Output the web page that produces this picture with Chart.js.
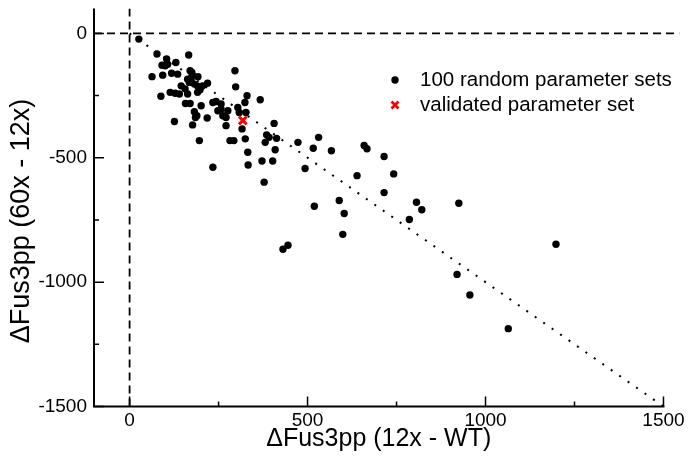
<!DOCTYPE html>
<html>
<head>
<meta charset="utf-8">
<script src="https://cdn.jsdelivr.net/npm/chart.js@4.4.1/dist/chart.umd.min.js"></script>
<style>
  body { margin: 0; background: #fff; }
  canvas { display: block; }
</style>
</head>
<body>
<canvas id="myChart" width="688" height="458"></canvas>
<script>
// 100 random parameter sets
var randX = [26, 77, 104, 107, 91, 100, 130, 63, 93, 118, 135, 114, 128, 140, 88, 145,
    166, 170, 175, 177, 163, 173, 168, 182, 191, 205, 219, 163, 157, 170, 191, 201,
    182, 189, 185, 218, 126, 177, 234, 243, 257, 248, 276, 262, 271, 296, 298, 330,
    324, 367, 304, 308, 327, 271, 316, 406, 385, 392, 381, 413, 196, 282, 293, 325,
    473, 531, 332, 409, 516, 567, 372, 402, 333, 493, 234, 378, 519, 659, 667, 715,
    742, 639, 715, 589, 603, 806, 821, 786, 925, 1198, 920, 956, 1064, 431, 445, 599,
    192, 198, 156, 257];
var randY = [-23, -83, -103, -124, -128, -130, -117, -174, -168, -160, -164, -237, -241, -244, -253, -211,
    -87, -150, -157, -170, -184, -190, -197, -204, -212, -211, -200, -244, -282, -282, -237, -291,
    -315, -331, -338, -340, -354, -368, -278, -274, -284, -311, -311, -331, -338, -150, -215, -251,
    -278, -267, -298, -318, -318, -371, -384, -362, -408, -418, -438, -422, -431, -431, -431, -424,
    -438, -418, -478, -468, -462, -472, -513, -513, -529, -543, -538, -598, -695, -451, -464, -495,
    -565, -572, -640, -672, -724, -679, -709, -748, -683, -848, -969, -1052, -1187, -868, -852, -808,
    -174, -227, -223, -304];

// validated parameter set
var validX = [318];
var validY = [-350];

var xTicks = [0, 250, 500, 750, 1000, 1250, 1500];
var yTicks = [-1500, -1250, -1000, -750, -500, -250, 0];
var legendLabels = ["100 random parameter sets", "validated parameter set"];
var xTitle = "\u0394Fus3pp (12x - WT)";
var yTitle = "\u0394Fus3pp (60x - 12x)";

var FONT = "'Liberation Sans', Arial, Helvetica, sans-serif";
Chart.defaults.font.family = FONT;
Chart.defaults.color = "#000";

function toPoints(xs, ys) {
    var pts = [];
    for (var i = 0; i < xs.length; i++) pts.push({x: xs[i], y: ys[i]});
    return pts;
}

// axes, inward ticks, titles and legend
var decor = {
    id: "decor",
    afterDraw: function (chart) {
        var ctx = chart.ctx;
        var sx = chart.scales.x, sy = chart.scales.y;
        var x0 = sx.getPixelForValue(-100), x1 = sx.getPixelForValue(1500);
        var yb = sy.getPixelForValue(-1500), yt = sy.getPixelForValue(100);
        ctx.save();
        ctx.strokeStyle = "#000";
        ctx.lineWidth = 2;
        ctx.beginPath();
        ctx.moveTo(x0, yb); ctx.lineTo(x1 + 1, yb);
        ctx.moveTo(x0, yb + 1); ctx.lineTo(x0, yt);
        ctx.stroke();
        ctx.lineWidth = 1.5;
        ctx.beginPath();
        xTicks.forEach(function (v) {
            var p = sx.getPixelForValue(v);
            var len = v % 500 === 0 ? 10 : 5;
            ctx.moveTo(p, yb); ctx.lineTo(p, yb - len);
        });
        yTicks.forEach(function (v) {
            var p = sy.getPixelForValue(v);
            var len = v % 500 === 0 ? 10 : 5;
            ctx.moveTo(x0, p); ctx.lineTo(x0 + len, p);
        });
        ctx.stroke();

        // titles
        ctx.fillStyle = "#000";
        ctx.font = "25px " + FONT;
        ctx.textAlign = "center";
        ctx.textBaseline = "middle";
        ctx.fillText(xTitle, (x0 + x1) / 2, 439);
        ctx.save();
        ctx.font = "27px " + FONT;
        ctx.translate(22, 221);
        ctx.rotate(-Math.PI / 2);
        ctx.fillText(yTitle, 0, 0);
        ctx.restore();

        // legend
        ctx.beginPath();
        ctx.arc(395, 80, 3.7, 0, Math.PI * 2);
        ctx.fill();
        ctx.strokeStyle = "#ff0000";
        ctx.lineWidth = 2.8;
        ctx.beginPath();
        ctx.moveTo(391.5, 101.5); ctx.lineTo(398.5, 108.5);
        ctx.moveTo(398.5, 101.5); ctx.lineTo(391.5, 108.5);
        ctx.stroke();
        ctx.font = "20.5px " + FONT;
        ctx.textAlign = "left";
        ctx.fillText(legendLabels[0], 420, 80);
        ctx.fillText(legendLabels[1], 420, 105);
        ctx.restore();
    }
};

var ctx = document.getElementById("myChart").getContext("2d");
var myChart = new Chart(ctx, {
    type: "scatter",
    data: {
        datasets: [{
            label: legendLabels[1],
            data: toPoints(validX, validY),
            pointStyle: "crossRot",
            pointRadius: 5.5,
            borderColor: "#ff0000",
            borderWidth: 3,
            order: 0
        }, {
            label: legendLabels[0],
            data: toPoints(randX, randY),
            pointStyle: "circle",
            pointRadius: 3.7,
            backgroundColor: "#000",
            borderWidth: 0,
            order: 1
        }, {
            // y = -x
            type: "line",
            data: [{x: 0, y: 0}, {x: 1500, y: -1500}],
            borderColor: "#000",
            borderWidth: 2,
            borderDash: [2, 8.3],
            pointRadius: 0,
            order: 2
        }, {
            type: "line",
            data: [{x: 0, y: -1500}, {x: 0, y: 100}],
            borderColor: "#000",
            borderWidth: 1.8,
            borderDash: [8, 5],
            pointRadius: 0,
            order: 3
        }, {
            type: "line",
            data: [{x: -100, y: 0}, {x: 1545, y: 0}],
            borderColor: "#000",
            borderWidth: 1.8,
            borderDash: [8, 5],
            pointRadius: 0,
            order: 3
        }]
    },
    options: {
        responsive: false,
        animation: false,
        layout: {padding: {top: 8, right: 5, left: 0, bottom: 0}},
        plugins: {legend: {display: false}, tooltip: {enabled: false}},
        scales: {
            x: {
                type: "linear",
                min: -100,
                max: 1545,
                afterBuildTicks: function (s) { s.ticks = xTicks.map(function (v) { return {value: v}; }); },
                afterFit: function (s) { s.height = 51.5; s.paddingLeft = 0; s.paddingRight = 0; },
                grid: {display: false, drawTicks: false},
                border: {display: false},
                ticks: {
                    autoSkip: false, maxRotation: 0, padding: 3,
                    font: {size: 19}, color: "#000",
                    callback: function (v) { return v % 500 === 0 ? String(v) : ""; }
                }
            },
            y: {
                type: "linear",
                min: -1500,
                max: 100,
                afterBuildTicks: function (s) { s.ticks = yTicks.map(function (v) { return {value: v}; }); },
                afterFit: function (s) { s.width = 94; s.paddingTop = 0; s.paddingBottom = 0; },
                grid: {display: false, drawTicks: false},
                border: {display: false},
                ticks: {
                    autoSkip: false, padding: 7,
                    font: {size: 19}, color: "#000",
                    callback: function (v) { return v % 500 === 0 ? String(v) : ""; }
                }
            }
        }
    },
    plugins: [decor]
});
</script>
</body>
</html>
